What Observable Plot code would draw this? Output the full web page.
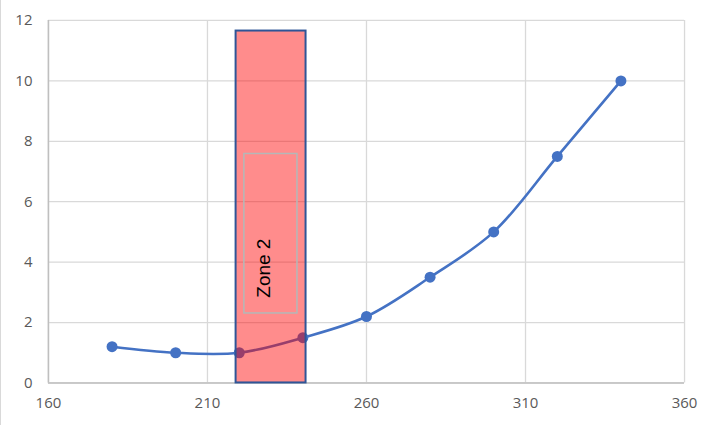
<!DOCTYPE html>
<html>
<head>
<meta charset="utf-8">
<script src="https://cdn.jsdelivr.net/npm/d3@7"></script>
<script src="https://cdn.jsdelivr.net/npm/@observablehq/plot@0.6"></script>
<style>
  html, body { margin: 0; padding: 0; background: #fff; }
  #chart svg { display: block; border-left: 1px solid #d9d9d9; box-sizing: border-box; }
</style>
</head>
<body>
<div id="chart"></div>
<script>
const xValues = [180, 200, 220, 240, 260, 280, 300, 320, 340];
const yValues = [1.2, 1.0, 1.0, 1.5, 2.2, 3.5, 5.0, 7.5, 10.0];
const xTicks = [160, 210, 260, 310, 360];
const yTicks = [0, 2, 4, 6, 8, 10, 12];
const zoneX = [219, 241];
const zoneY = [0, 11.65];
const labelBoxX = [221.6, 238.3];
const labelBoxY = [2.3, 7.58];
const zoneLabel = "Zone 2";
const zoneLabelPos = [227.6, 3.8];

const points = xValues.map((x, i) => ({x, y: yValues[i]}));
const zone = [{x1: zoneX[0], x2: zoneX[1], y1: zoneY[0], y2: zoneY[1]}];
const box = [{x1: labelBoxX[0], x2: labelBoxX[1], y1: labelBoxY[0], y2: labelBoxY[1]}];

const chart = Plot.plot({
  width: 713,
  height: 426,
  marginLeft: 47,
  marginRight: 29,
  marginTop: 20,
  marginBottom: 43,
  style: {fontFamily: "'Open Sans', 'Liberation Sans', sans-serif", fontSize: "15px", color: "#595959", background: "#fff"},
  x: {domain: [160, 360], ticks: xTicks},
  y: {domain: [0, 12], ticks: yTicks},
  marks: [
    Plot.ruleX(xTicks, {stroke: "#d9d9d9", strokeWidth: 1.3}),
    Plot.ruleY(yTicks, {stroke: "#d9d9d9", strokeWidth: 1.3}),
    Plot.ruleX([160], {stroke: "#bfbfbf", strokeWidth: 1.5}),
    Plot.ruleY([0], {stroke: "#bfbfbf", strokeWidth: 1.5}),
    Plot.line(points, {x: "x", y: "y", stroke: "#4472C4", strokeWidth: 2.6, curve: "catmull-rom"}),
    Plot.dot(points, {x: "x", y: "y", r: 5.5, fill: "#4472C4", stroke: "none"}),
    Plot.rect(zone, {x1: "x1", x2: "x2", y1: "y1", y2: "y2", fill: "#ff0000", fillOpacity: 0.45, stroke: "#2F5597", strokeWidth: 2}),
    Plot.rect(box, {x1: "x1", x2: "x2", y1: "y1", y2: "y2", fill: "none", stroke: "#b4b8b8", strokeWidth: 1.5}),
    Plot.text([zoneLabel], {x: () => zoneLabelPos[0], y: () => zoneLabelPos[1], text: d => d, rotate: -90, fontSize: 19, fill: "#000", fontFamily: "'Liberation Sans', sans-serif"}),
    Plot.axisX(xTicks, {tickSize: 0, tickPadding: 14, fill: "#595959", fontSize: 15}),
    Plot.axisY(yTicks, {tickSize: 0, tickPadding: 16, fill: "#595959", fontSize: 15})
  ]
});
document.getElementById("chart").appendChild(chart);
</script>
</body>
</html>
